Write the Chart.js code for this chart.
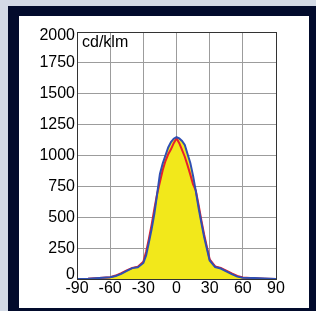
<!DOCTYPE html>
<html>
<head>
<meta charset="utf-8">
<script src="https://cdn.jsdelivr.net/npm/chart.js@4"></script>
<style>
    body { margin: 0; background: #d3dae6; width: 316px; height: 311px; overflow: hidden; position: relative; }
    #frame { position: absolute; left: 8px; top: 6px; width: 308px; height: 305px; background: #020b2c; }
    #panel { position: absolute; left: 19px; top: 16px; width: 290px; height: 292px; background: #fff; }
    #chart { position: absolute; left: 0; top: 0; }
</style>
</head>
<body>
<div id="frame"></div>
<div id="panel"></div>
<canvas id="chart" width="316" height="311"></canvas>
<script>
// Beam angles (deg) and intensities (cd/klm)
const angles = [-90, -80, -70, -60, -55, -50, -45, -40, -35, -30, -27.5, -25, -22.5, -20, -17.5, -15, -12.5, -10, -7.5, -5,
    -2.5, 0, 2.5, 5, 7.5, 10, 12.5, 15, 17.5, 20, 22.5, 25, 27.5, 30, 35, 40, 45, 50, 55, 60, 70, 80, 90];
const bluePlane = [0, 3, 9, 14, 24, 42, 65, 88, 95, 130, 190, 295, 405, 530, 690, 850, 935, 1000, 1065, 1108,
    1136, 1148, 1138, 1118, 1085, 1012, 940, 835, 710, 575, 455, 340, 245, 150, 97, 85, 62, 40, 19, 11, 8, 4, 0];
const redPlane = [0, 3, 8, 15, 28, 48, 70, 90, 100, 140, 220, 325, 440, 570, 690, 785, 880, 955, 1010, 1050,
    1100, 1140, 1100, 1045, 990, 920, 845, 765, 715, 600, 475, 360, 260, 160, 102, 90, 68, 45, 25, 12, 7, 3, 0];
const unitLabel = 'cd/klm';

const toPoints = vals => angles.map((a, i) => ({ x: a, y: vals[i] }));
const FONT = { family: 'Liberation Sans, Arial, sans-serif', size: 16 };

// frame + unit label
const plotDecor = {
    id: 'plotDecor',
    afterDatasetsDraw(chart) {
        const { ctx, chartArea: a } = chart;
        ctx.save();
        ctx.strokeStyle = '#333';
        ctx.lineWidth = 1;
        ctx.strokeRect(a.left + 0.5, a.top + 0.5, a.right - a.left, a.bottom - a.top);
        ctx.fillStyle = '#000';
        ctx.font = '16px Liberation Sans, Arial, sans-serif';
        ctx.textBaseline = 'alphabetic';
        ctx.fillText(unitLabel, a.left + 5, a.top + 15);
        ctx.restore();
    }
};

// end labels sit a little inside the axis, like the original
const yLabel = v => v === 0 ? ['0', ''] : v === 2000 ? ['', '2000'] : String(v);
const yFont = c => {
    const v = c.tick ? c.tick.value : null;
    if (v === 0) return { ...FONT, lineHeight: '9px' };
    if (v === 2000) return { ...FONT, lineHeight: '7px' };
    return FONT;
};

new Chart(document.getElementById('chart'), {
    type: 'line',
    data: {
        datasets: [
            { data: toPoints(bluePlane), borderColor: '#2f4fb3', borderWidth: 2, pointRadius: 0, fill: false, order: 0 },
            { data: toPoints(redPlane), borderColor: '#e8202c', borderWidth: 2, pointRadius: 0, fill: false, order: 1 },
            { data: toPoints(bluePlane), borderWidth: 0, borderColor: 'rgba(0,0,0,0)', backgroundColor: '#f2e81b',
              pointRadius: 0, fill: 'origin', order: 2 }
        ]
    },
    options: {
        responsive: false,
        devicePixelRatio: 1,
        animation: false,
        layout: { padding: { left: 0, top: 32, right: 40, bottom: 0 } },
        plugins: { legend: { display: false }, tooltip: { enabled: false } },
        scales: {
            x: {
                type: 'linear', min: -90, max: 90,
                ticks: { stepSize: 30, color: '#000', font: FONT, padding: 0, maxRotation: 0, callback: v => String(v) },
                grid: { color: '#9c9c9c', drawTicks: false },
                border: { color: '#333' },
                afterFit(s) { s.height = 32; }
            },
            y: {
                min: 0, max: 2000,
                ticks: { stepSize: 250, color: '#000', font: yFont, padding: 2, callback: yLabel },
                grid: { color: '#9c9c9c', drawTicks: false },
                border: { color: '#333' },
                afterFit(s) { s.width = 77; }
            }
        }
    },
    plugins: [plotDecor]
});
</script>
</body>
</html>
